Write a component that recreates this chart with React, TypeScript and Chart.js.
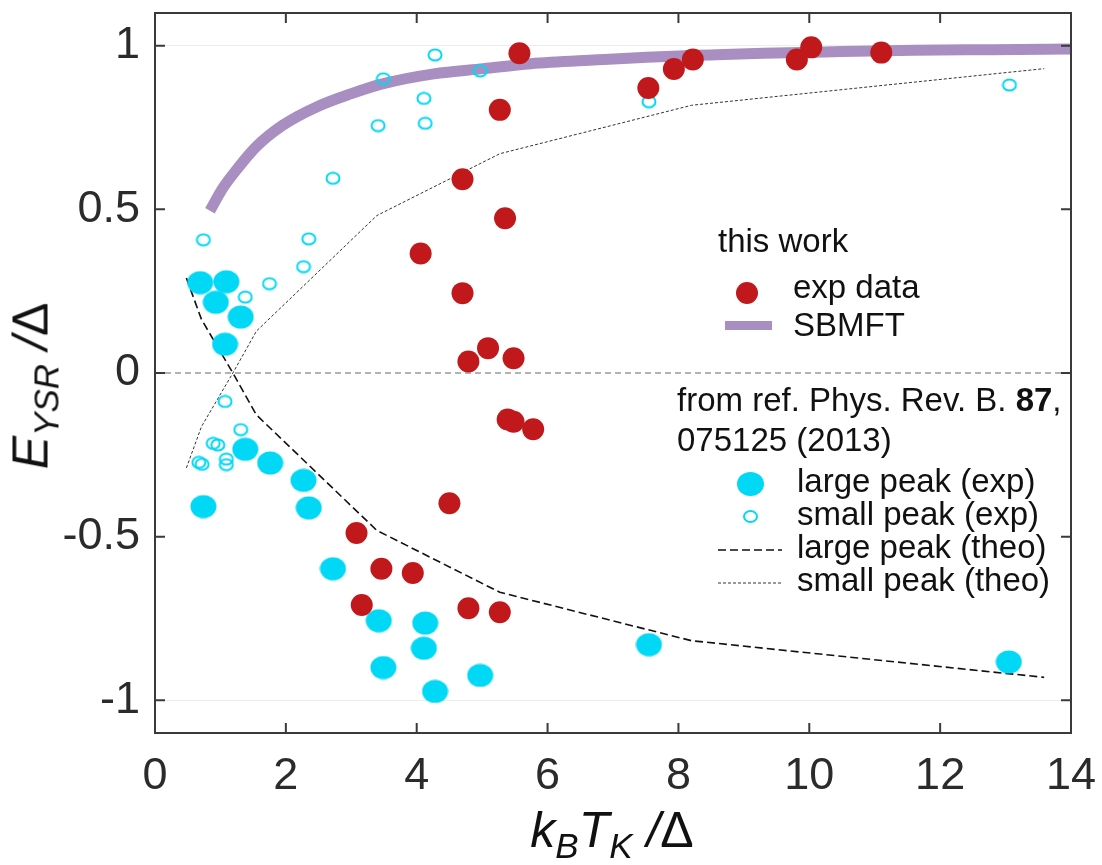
import React, { useEffect, useRef } from 'react';
import { Chart, registerables } from 'chart.js';

Chart.register(...registerables);

// ---------- data ----------
const xTickValues = [0, 2, 4, 6, 8, 10, 12, 14];
const yTickValues = [-1, -0.5, 0, 0.5, 1];

// this work: exp data
const expX = [5.57, 5.27, 4.70, 5.35, 4.06, 4.70, 5.09, 4.79, 5.48, 7.54, 7.93, 8.22, 9.81, 10.03, 11.10, 5.39, 5.48, 5.78, 4.50, 3.08, 3.46, 3.94, 3.16, 4.79, 5.27];
const expY = [0.977, 0.804, 0.592, 0.473, 0.365, 0.244, 0.076, 0.035, 0.045, 0.871, 0.929, 0.958, 0.958, 0.995, 0.979, -0.142, -0.149, -0.172, -0.398, -0.489, -0.598, -0.611, -0.709, -0.719, -0.731];

// this work: SBMFT
const sbmftX = [0.84, 1.04, 1.25, 1.55, 1.96, 2.47, 2.98, 3.49, 4.26, 5.02, 5.74, 6.76, 7.52, 8.5, 9.3, 10.5, 11.6, 12.8, 14.0];
const sbmftY = [0.496, 0.566, 0.622, 0.692, 0.758, 0.813, 0.852, 0.884, 0.914, 0.930, 0.945, 0.957, 0.965, 0.972, 0.977, 0.982, 0.986, 0.988, 0.990];

// ref: large peak (exp)
const largeX = [0.69, 1.09, 0.93, 1.31, 1.07, 1.38, 1.76, 2.27, 2.35, 0.74, 2.72, 3.42, 4.13, 4.11, 3.49, 4.28, 4.97, 7.55, 13.05];
const largeY = [0.276, 0.279, 0.216, 0.171, 0.088, -0.233, -0.275, -0.328, -0.412, -0.408, -0.598, -0.757, -0.764, -0.841, -0.900, -0.973, -0.924, -0.830, -0.883];

// ref: small peak (exp)
const smallX = [0.74, 1.38, 1.75, 2.27, 2.35, 2.72, 3.41, 4.13, 4.11, 3.49, 4.28, 4.97, 7.55, 13.06, 1.07, 1.31, 0.89, 0.96, 0.67, 0.72, 1.09, 1.09];
const smallY = [0.407, 0.232, 0.273, 0.325, 0.410, 0.595, 0.756, 0.763, 0.839, 0.899, 0.972, 0.923, 0.829, 0.880, -0.087, -0.173, -0.215, -0.220, -0.273, -0.279, -0.263, -0.280];

// ref: theory curves
const theoX = [0.48, 0.71, 1.19, 1.55, 3.39, 5.27, 8.2, 13.59];
const largeTheoY = [0.29, 0.164, 0, -0.128, -0.481, -0.670, -0.818, -0.930];
const smallTheoY = [-0.29, -0.164, 0, 0.128, 0.481, 0.670, 0.818, 0.930];

// ---------- styles ----------
const FONT = "'Liberation Sans', Arial, Helvetica, sans-serif";
const RED = '#c1191b';
const CYAN = '#00d8f6';
const PURPLE = '#a98fc1';
const FRAME = '#3a3a3a';

const pts = (xs: number[], ys: number[]) => xs.map((x, i) => ({ x, y: ys[i] }));

function makeEllipse(w: number, h: number, fill: string | null, stroke: string | null, lw: number) {
  const c = document.createElement('canvas');
  c.width = w;
  c.height = h;
  const g = c.getContext('2d')!;
  g.beginPath();
  g.ellipse(w / 2, h / 2, w / 2 - lw / 2 - 0.5, h / 2 - lw / 2 - 0.5, 0, 0, Math.PI * 2);
  if (fill) { g.fillStyle = fill; g.fill(); }
  if (stroke) { g.strokeStyle = stroke; g.lineWidth = lw; g.stroke(); }
  return c;
}

const framePlugin = {
  id: 'frameTicks',
  beforeDatasetsDraw(chart: any) {
    const { ctx, chartArea: a, scales } = chart;
    const y0 = scales.y.getPixelForValue(0);
    ctx.save();
    ctx.strokeStyle = '#9a9a9a';
    ctx.lineWidth = 1.5;
    ctx.setLineDash([6, 4]);
    ctx.beginPath();
    ctx.moveTo(a.left, y0);
    ctx.lineTo(a.right, y0);
    ctx.stroke();
    ctx.restore();
  },
  afterDatasetsDraw(chart: any) {
    const { ctx, chartArea: a, scales } = chart;
    const L = 10;
    ctx.save();
    ctx.strokeStyle = FRAME;
    ctx.lineWidth = 2;
    ctx.setLineDash([]);
    ctx.strokeRect(a.left, a.top, a.right - a.left, a.bottom - a.top);
    ctx.beginPath();
    for (const v of xTickValues) {
      const px = scales.x.getPixelForValue(v);
      ctx.moveTo(px, a.bottom); ctx.lineTo(px, a.bottom - L);
      ctx.moveTo(px, a.top); ctx.lineTo(px, a.top + L);
    }
    for (const v of yTickValues) {
      const py = scales.y.getPixelForValue(v);
      ctx.moveTo(a.left, py); ctx.lineTo(a.left + L, py);
      ctx.moveTo(a.right, py); ctx.lineTo(a.right - L, py);
    }
    ctx.stroke();
    ctx.restore();
  },
};

function LegendText({ left, baseline, children }: any) {
  return (
    <div style={{ position: 'absolute', left, top: baseline - 28, fontSize: 33, lineHeight: '33px', fontFamily: FONT, color: '#111', whiteSpace: 'nowrap' }}>
      {children}
    </div>
  );
}

const subStyle: React.CSSProperties = { fontSize: 35, position: 'relative', top: 11 };
const upright: React.CSSProperties = { fontStyle: 'normal' };

export default function App() {
  const ref = useRef<HTMLCanvasElement>(null);

  useEffect(() => {
    const canvas = ref.current!;
    const bigEll = makeEllipse(27, 24, CYAN, null, 0);
    const smallEll = makeEllipse(16, 14, null, CYAN, 2);

    const chart = new Chart(canvas, {
      type: 'scatter',
      data: {
        datasets: [
          { label: 'exp data', data: pts(expX, expY), pointStyle: 'circle', pointRadius: 11, backgroundColor: RED, borderWidth: 0, pointBorderWidth: 0 } as any,
          { label: 'large peak (exp)', data: pts(largeX, largeY), pointStyle: bigEll, pointRadius: 12 } as any,
          { label: 'small peak (exp)', data: pts(smallX, smallY), pointStyle: smallEll, pointRadius: 7 } as any,
          { label: 'large peak (theo)', data: pts(theoX, largeTheoY), showLine: true, pointRadius: 0, borderColor: '#111', borderWidth: 1.6, borderDash: [8, 4], fill: false } as any,
          { label: 'small peak (theo)', data: pts(theoX, smallTheoY), showLine: true, pointRadius: 0, borderColor: '#333', borderWidth: 1, borderDash: [3, 2], fill: false } as any,
          { label: 'SBMFT', data: pts(sbmftX, sbmftY), showLine: true, pointRadius: 0, borderColor: PURPLE, borderWidth: 11, borderCapStyle: 'butt', cubicInterpolationMode: 'monotone', fill: false } as any,
        ],
      },
      options: {
        responsive: false,
        animation: false,
        events: [],
        layout: { padding: { left: 0, top: 5, right: 31, bottom: 0 } },
        plugins: { legend: { display: false }, tooltip: { enabled: false } },
        scales: {
          x: {
            type: 'linear',
            min: 0,
            max: 14,
            afterBuildTicks: (s: any) => { s.ticks = xTickValues.map((v) => ({ value: v })); },
            afterFit: (s: any) => { s.height = 132; s.paddingLeft = 0; s.paddingRight = 0; s.paddingTop = 0; s.paddingBottom = 0; },
            ticks: { font: { family: FONT, size: 45 }, color: '#2b2b2b', padding: 17, maxRotation: 0, autoSkip: false, callback: (v: any) => String(v) },
            grid: { display: false, drawTicks: false },
            border: { display: false },
          },
          y: {
            type: 'linear',
            min: -1.1,
            max: 1.1,
            afterBuildTicks: (s: any) => { s.ticks = yTickValues.map((v) => ({ value: v })); },
            afterFit: (s: any) => { s.width = 155; s.paddingLeft = 0; s.paddingRight = 0; s.paddingTop = 0; s.paddingBottom = 0; },
            ticks: { font: { family: FONT, size: 45 }, color: '#2b2b2b', padding: 15, autoSkip: false, callback: (v: any) => String(v) },
            grid: {
              drawTicks: false,
              lineWidth: 1,
              color: (c: any) => (c.tick && Math.abs(c.tick.value) === 1 ? '#ececec' : 'rgba(0,0,0,0)'),
            },
            border: { display: false },
          },
        },
      } as any,
      plugins: [framePlugin],
    });
    return () => chart.destroy();
  }, []);

  return (
    <div style={{ position: 'absolute', left: 0, top: 0, width: 1102, height: 865, background: '#fff', overflow: 'hidden' }}>
      <canvas ref={ref} width={1102} height={865} style={{ display: 'block', width: 1102, height: 865 }} />

      {/* y axis title */}
      <div style={{ position: 'absolute', left: 33, top: 386, transform: 'translate(-50%, -50%) rotate(-90deg)', fontFamily: FONT, fontSize: 50, lineHeight: '50px', fontStyle: 'italic', color: '#111', whiteSpace: 'nowrap' }}>
        E<span style={subStyle}>YSR</span> /<span style={upright}>Δ</span>
      </div>

      {/* x axis title */}
      <div style={{ position: 'absolute', left: 612, top: 832, transform: 'translate(-50%, -50%)', fontFamily: FONT, fontSize: 50, lineHeight: '50px', fontStyle: 'italic', color: '#111', whiteSpace: 'nowrap' }}>
        k<span style={subStyle}>B</span>T<span style={subStyle}>K</span> /<span style={upright}>Δ</span>
      </div>

      {/* legend */}
      <LegendText left={718} baseline={252}>this work</LegendText>
      <div style={{ position: 'absolute', left: 736, top: 282, width: 22, height: 22, borderRadius: '50%', background: RED }} />
      <LegendText left={793} baseline={298}>exp data</LegendText>
      <div style={{ position: 'absolute', left: 725, top: 321, width: 47, height: 9, background: PURPLE }} />
      <LegendText left={793} baseline={336}>SBMFT</LegendText>

      <LegendText left={677} baseline={411}>from ref. Phys. Rev. B. <b>87</b>,</LegendText>
      <LegendText left={677} baseline={451}>075125 (2013)</LegendText>
      <div style={{ position: 'absolute', left: 737, top: 472, width: 27, height: 24, borderRadius: '50%', background: CYAN }} />
      <LegendText left={797} baseline={492}>large peak (exp)</LegendText>
      <div style={{ position: 'absolute', left: 743, top: 510, width: 15, height: 13, borderRadius: '50%', border: `2px solid ${CYAN}`, boxSizing: 'border-box' }} />
      <LegendText left={797} baseline={525}>small peak (exp)</LegendText>
      <svg style={{ position: 'absolute', left: 718, top: 545 }} width={64} height={10}>
        <line x1={0} y1={5} x2={64} y2={5} stroke="#111" strokeWidth={1.6} strokeDasharray="8 4" />
      </svg>
      <LegendText left={797} baseline={558}>large peak (theo)</LegendText>
      <svg style={{ position: 'absolute', left: 718, top: 578 }} width={64} height={10}>
        <line x1={0} y1={5} x2={64} y2={5} stroke="#333" strokeWidth={1} strokeDasharray="3 2" />
      </svg>
      <LegendText left={797} baseline={591}>small peak (theo)</LegendText>
    </div>
  );
}
